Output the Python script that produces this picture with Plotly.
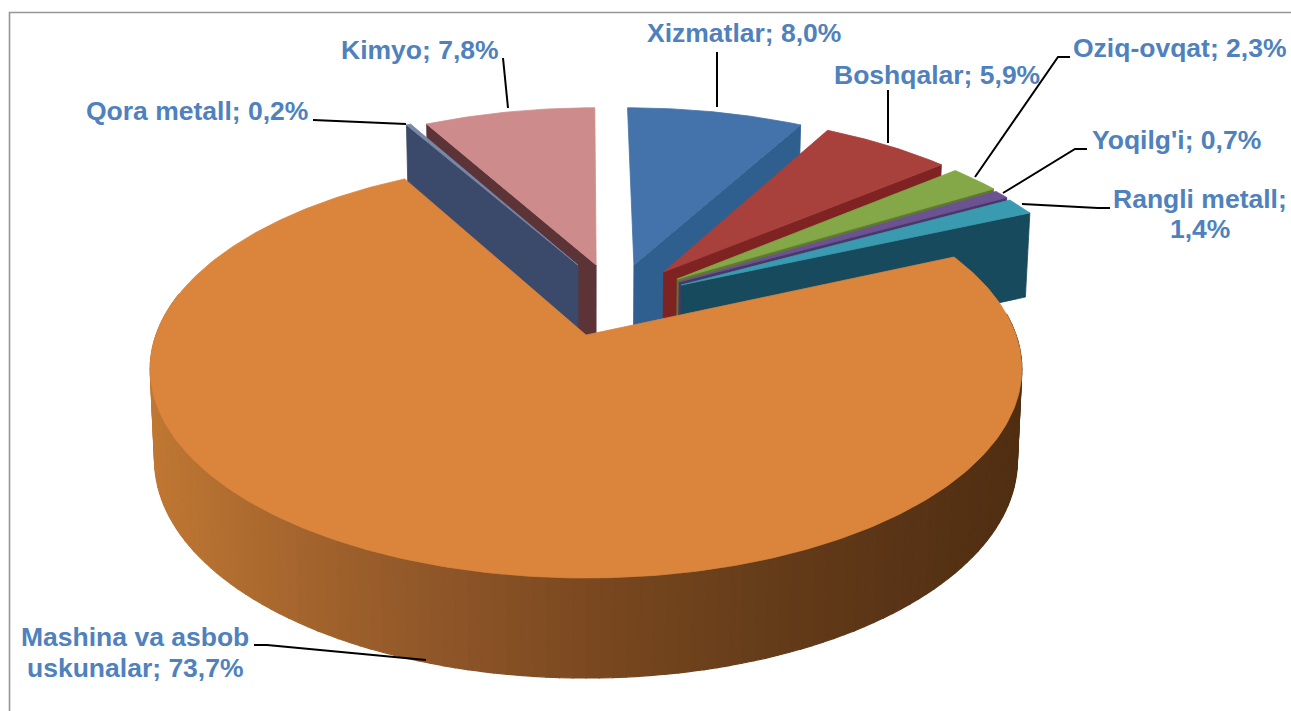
import math
import plotly.graph_objects as go

# ---- data ----
categories = ["Xizmatlar", "Boshqalar", "Oziq-ovqat", "Yoqilg'i", "Rangli metall",
              "Mashina va asbob uskunalar", "Qora metall", "Kimyo"]
values = [8.0, 5.9, 2.3, 0.7, 1.4, 73.7, 0.2, 7.8]
top_colors = ["#4373AA", "#A8403C", "#84A848", "#6B5293", "#3A9BB0", "#DA843C", "#7888A8", "#CE8B8B"]
face_colors = ["#2E5F8F", "#7E2321", "#5F7A30", "#4A3668", "#174A5C", "#5A3416", "#3B4A6A", "#5C3437"]
explode_u = [0.118, 0.190, 0.222, 0.226, 0.231, 0.0, -0.02, 0.025]
explode_v = [0.364, 0.326, 0.288, 0.272, 0.256, 0.0, 0.364, 0.364]
side_stops_x = [150, 300, 450, 600, 750, 900, 1025]
side_stops_rgb = [(192, 119, 51), (165, 101, 45), (142, 85, 40), (122, 72, 32),
                  (104, 62, 26), (90, 52, 22), (80, 46, 17)]

# ---- label layout: text lines, centre x, centre y ----
labels = [
    (["Xizmatlar; 8,0%"], 744, [33]),
    (["Boshqalar; 5,9%"], 937, [75]),
    (["Oziq-ovqat; 2,3%"], 1180, [48]),
    (["Yoqilg'i; 0,7%"], 1176, [140]),
    (["Rangli metall;", "1,4%"], 1200, [199, 229]),
    (["Mashina va asbob", "uskunalar; 73,7%"], 135, [637, 668]),
    (["Qora metall; 0,2%"], 197, [111]),
    (["Kimyo; 7,8%"], 420, [50]),
]
leaders = [
    ([717, 717], [52, 107]),
    ([888, 888], [90, 143]),
    ([1070, 1058, 975], [57, 57, 177]),
    ([1087, 1075, 1003], [149, 149, 193]),
    ([1110, 1098, 1022], [208, 208, 204]),
    ([254, 267, 426], [645, 645, 660]),
    ([313, 406], [120, 124]),
    ([503, 508], [58, 108]),
]

# ---- projection of the pie plane ----
CX, CY, A, B, K = 586.0, 335.0, 430.0, 203.5, 0.1625
DEPTH, DEPTH_POW, BOTTOM_SCALE = 89.6, 0.62, 0.99


def project(u, v, low=False):
    w = 1 + K * v
    x = CX + A * u / w
    y = CY - B * v / w
    if low:
        x = CX + (x - CX) * BOTTOM_SCALE
        y = y + DEPTH / w ** DEPTH_POW
    return x, y


def arc(du, dv, t1, t2, step=0.75, low=False):
    n = max(2, int(abs(t2 - t1) / step) + 1)
    out = []
    for i in range(n + 1):
        t = math.radians(t1 + (t2 - t1) * i / n)
        out.append(project(du + math.sin(t), dv + math.cos(t), low))
    return out


fig = go.Figure()


def poly(points, color, lw=0.8):
    xs = [p[0] for p in points] + [points[0][0]]
    ys = [p[1] for p in points] + [points[0][1]]
    fig.add_trace(go.Scatter(x=xs, y=ys, mode="lines", fill="toself", fillcolor=color,
                             line=dict(color=color, width=lw), hoverinfo="skip", showlegend=False))


def side_color(x):
    x = min(max(x, side_stops_x[0]), side_stops_x[-1])
    for i in range(len(side_stops_x) - 1):
        if x <= side_stops_x[i + 1]:
            f = (x - side_stops_x[i]) / (side_stops_x[i + 1] - side_stops_x[i])
            c = [round(a + (b - a) * f) for a, b in zip(side_stops_rgb[i], side_stops_rgb[i + 1])]
            return "rgb(%d,%d,%d)" % tuple(c)
    return "rgb(%d,%d,%d)" % side_stops_rgb[-1]


# slice angles from the values
total = sum(values)
starts, ends = [], []
acc = 0.0
for val in values:
    starts.append(acc / total * 360)
    acc += val
    ends.append(acc / total * 360)

MAIN = categories.index("Mashina va asbob uskunalar")
draw_order = [0, 1, 2, 3, 4, 7, 6, 5]

for i in draw_order:
    du, dv = explode_u[i], explode_v[i]
    t1, t2 = starts[i], ends[i]
    if i == MAIN:
        # curved outer wall, shaded along x
        a0 = max(t1, 84)
        a1 = min(t2, 282)
        n = int((a1 - a0) / 1.5)
        for j in range(n):
            b0 = a0 + (a1 - a0) * j / n
            b1 = a0 + (a1 - a0) * (j + 1) / n
            up = arc(du, dv, b0, b1, step=2)
            dn = arc(du, dv, b0, b1, step=2, low=True)
            poly(up + dn[::-1], side_color(up[0][0]), lw=1.2)
    else:
        # flat cut face towards the viewer
        edge = t2 if i < MAIN else t1
        t = math.radians(edge)
        ou, ov = du + math.sin(t), dv + math.cos(t)
        poly([project(du, dv), project(ou, ov), project(ou, ov, True), project(du, dv, True)], face_colors[i])
    poly([project(du, dv)] + arc(du, dv, t1, t2), top_colors[i])

for xs, ys in leaders:
    fig.add_trace(go.Scatter(x=xs, y=ys, mode="lines", line=dict(color="#000000", width=2),
                             hoverinfo="skip", showlegend=False))

annotations = []
for lines, cx, ys in labels:
    for line, y in zip(lines, ys):
        annotations.append(dict(x=cx, y=y, xref="x", yref="y", text=line, showarrow=False,
                                xanchor="center", yanchor="middle",
                                font=dict(family="Liberation Sans, Arial, sans-serif", size=26.5,
                                          color="#4F81BD", weight="bold")))

fig.update_layout(
    width=1291, height=711, margin=dict(l=0, r=0, t=0, b=0),
    paper_bgcolor="#FFFFFF", plot_bgcolor="#FFFFFF", showlegend=False,
    xaxis=dict(range=[0, 1291], visible=False, fixedrange=True),
    yaxis=dict(range=[711, 0], visible=False, fixedrange=True),
    annotations=annotations,
    shapes=[dict(type="rect", xref="x", yref="y", x0=9.5, y0=12.5, x1=1320, y1=740,
                 line=dict(color="#969696", width=1.6), fillcolor="rgba(0,0,0,0)", layer="below")],
)
fig.write_html("out.html", config={"displayModeBar": False},
               post_script="document.body.style.margin='0';document.documentElement.style.overflow='hidden';")
